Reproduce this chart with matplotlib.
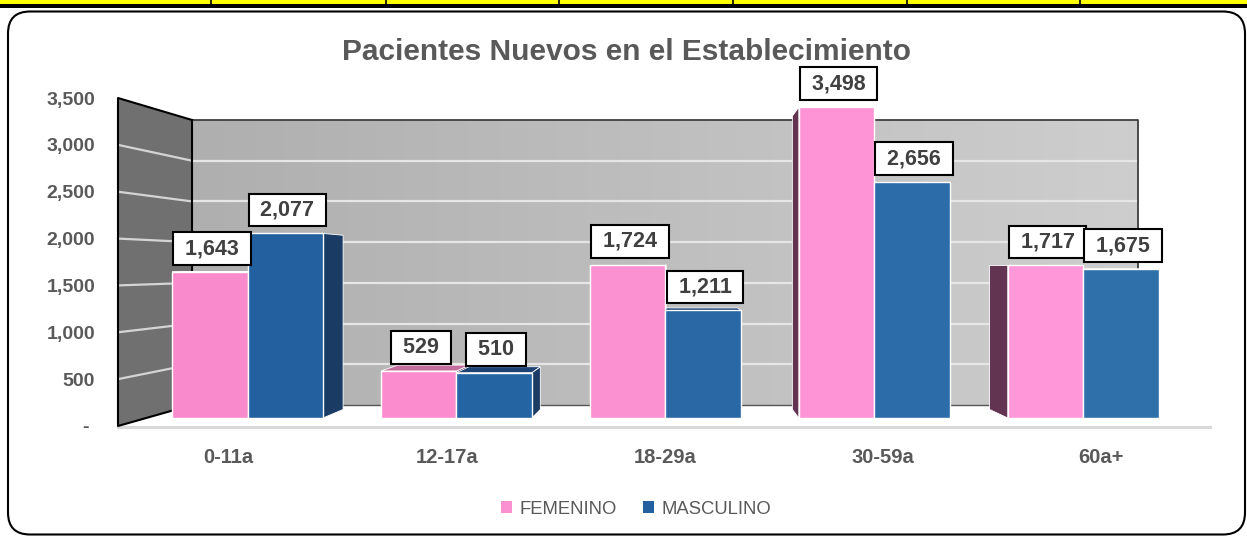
import matplotlib
matplotlib.use("Agg")
import matplotlib.pyplot as plt
import numpy as np
from matplotlib.patches import Polygon, Rectangle, FancyBboxPatch, Patch
from matplotlib.colors import to_rgb, LinearSegmentedColormap
from matplotlib.ticker import FuncFormatter

plt.rcParams['font.family'] = ['Liberation Sans', 'DejaVu Sans']

# data
categories = ["0-11a", "12-17a", "18-29a", "30-59a", "60a+"]
femenino = [1643, 529, 1724, 3498, 1717]
masculino = [2077, 510, 1211, 2656, 1675]
y_ticks = [0, 500, 1000, 1500, 2000, 2500, 3000, 3500]

W, H = 1247, 537
fig = plt.figure(figsize=(W / 100, H / 100), dpi=100)
fig.patch.set_facecolor("white")

gray_txt = "#595959"

# background / decoration axes in pixel units (top-down)
bg = fig.add_axes([0, 0, 1, 1], zorder=0)
bg.set_xlim(0, W)
bg.set_ylim(H, 0)
bg.axis("off")

# spreadsheet strip on top
bg.add_patch(Rectangle((0, 0), W, 4.5, facecolor="#ffff00", edgecolor="none"))
bg.add_patch(Rectangle((0, 4.2), W, 3.3, facecolor="black", edgecolor="none"))
for xc in [211, 386, 559, 733, 907, 1080]:
    bg.plot([xc, xc], [0, 4.5], color="black", lw=1.2)

# chart border
bg.add_patch(FancyBboxPatch((8, 11.5), 1237, 523, boxstyle="round,pad=0,rounding_size=22",
                            facecolor="white", edgecolor="black", lw=1.5, zorder=0.5))

# 3D walls
ymax = 3500.0
def front_y(v):
    return 426 - v * 328 / ymax

def back_y(v):
    return 405 - v * 285 / ymax

# back wall gradient
grad = np.linspace(0, 1, 256).reshape(1, -1)
cmap = LinearSegmentedColormap.from_list("wall", ["#afafaf", "#cecece"])
bg.imshow(grad, cmap=cmap, extent=(192, 1138, 405, 120), aspect="auto", zorder=1)
bg.set_xlim(0, W)
bg.set_ylim(H, 0)
for v in y_ticks[1:-1]:
    bg.plot([192, 1138], [back_y(v), back_y(v)], color="#e6e6e6", lw=1.6, zorder=1.2)
bg.plot([192, 1138, 1138], [120, 120, 405], color="#3f3f3f", lw=1.3, zorder=1.3)
bg.plot([192, 1138], [405, 405], color="#555555", lw=1.0, zorder=1.3)

# side wall
side = Polygon([(118, front_y(ymax)), (192, back_y(ymax)), (192, back_y(0)), (118, front_y(0))],
               closed=True, facecolor="#707070", edgecolor="none", zorder=1.4)
bg.add_patch(side)
for v in y_ticks[1:-1]:
    bg.plot([118, 192], [front_y(v), back_y(v)], color="#d4d4d4", lw=1.6, zorder=1.5)
bg.plot([192, 118, 118, 192, 192], [back_y(ymax), front_y(ymax), front_y(0), back_y(0), back_y(ymax)],
        color="black", lw=1.5, zorder=1.6)

# floor front edge
bg.plot([118, 1210], [427, 427], color="#d9d9d9", lw=2.2, zorder=1.2)

# front-plane axes: y tick labels and category labels
fax = fig.add_axes([118 / W, 1 - 426 / H, (1210 - 118) / W, (426 - 98) / H], zorder=1)
fax.patch.set_visible(False)
fax.set_xlim(-0.507, 4.5)
fax.set_ylim(0, ymax)
for s in fax.spines.values():
    s.set_visible(False)
fax.set_yticks(y_ticks)
fax.yaxis.set_major_formatter(FuncFormatter(lambda v, p: "- " if v == 0 else f"{int(v):,}"))
fax.set_xticks(range(len(categories)))
fax.set_xticklabels(categories)
fax.tick_params(axis="y", length=0, pad=16.5, labelsize=14, labelcolor=gray_txt)
fax.tick_params(axis="x", length=0, pad=16, labelsize=14.5, labelcolor=gray_txt)
for lab in fax.get_yticklabels() + fax.get_xticklabels():
    lab.set_fontweight("bold")

# bar axes
bax = fig.add_axes([118 / W, 1 - 418 / H, (1210 - 118) / W, (418 - 107) / H], zorder=2)
bax.patch.set_visible(False)
bax.axis("off")
bax.set_xlim(-0.62, 4.607)
bax.set_ylim(0, ymax)

x = np.arange(len(categories))
w = 0.361

def shades(c0, c1, n):
    a, b = np.array(to_rgb(c0)), np.array(to_rgb(c1))
    return [tuple(a + (b - a) * t) for t in np.linspace(0, 1, n)]

pink_cols = shades("#f98acb", "#ff97d8", len(categories))
blue_cols = shades("#22609f", "#2f70ab", len(categories))

bars_f = bax.bar(x - w / 2, femenino, w, color=pink_cols, edgecolor="white", lw=1.0, zorder=3)
bars_m = bax.bar(x + w / 2, masculino, w, color=blue_cols, edgecolor="white", lw=1.0, zorder=3)

# perspective depth faces
vp = np.array([683.0, H - 266.0])
k = 0.944
inv = bax.transData.inverted()

def add_depth(bar, side_col, top_col):
    x0, x1 = bar.get_x(), bar.get_x() + bar.get_width()
    h = bar.get_height()
    pts = bax.transData.transform([(x0, 0), (x1, 0), (x1, h), (x0, h)])
    back = vp + k * (pts - vp)
    f = inv.transform(pts)
    b = inv.transform(back)
    if pts[1, 0] < vp[0]:
        bax.add_patch(Polygon([f[1], f[2], b[2], b[1]], closed=True, facecolor=side_col,
                              edgecolor="white", lw=0.6, zorder=2, clip_on=False))
    if pts[0, 0] > vp[0]:
        bax.add_patch(Polygon([f[0], f[3], b[3], b[0]], closed=True, facecolor=side_col,
                              edgecolor="white", lw=0.6, zorder=2, clip_on=False))
    if pts[2, 1] < vp[1]:
        bax.add_patch(Polygon([f[3], f[2], b[2], b[3]], closed=True, facecolor=top_col,
                              edgecolor="white", lw=0.6, zorder=2.5, clip_on=False))

for bar in bars_f:
    add_depth(bar, "#633452", "#c46c9e")
for bar in bars_m:
    add_depth(bar, "#1a3b64", "#1c4373")

# data labels
for bars, vals in [(bars_f, femenino), (bars_m, masculino)]:
    for bar, v in zip(bars, vals):
        bax.annotate(f" {v:,} ", (bar.get_x() + bar.get_width() / 2, v), xytext=(1.5, 9.3),
                     textcoords="offset points", ha="center", va="bottom",
                     fontsize=15.5, fontweight="bold", color="#404040", zorder=5,
                     bbox=dict(boxstyle="square,pad=0.27", facecolor="white",
                               edgecolor="black", lw=1.5))

# title
fig.text(627 / W, 1 - 60 / H, "Pacientes Nuevos en el Establecimiento", ha="center",
         va="baseline", fontsize=21.5, fontweight="bold", color=gray_txt)

# legend
handles = [Patch(facecolor=pink_cols[2], edgecolor="none"),
           Patch(facecolor=blue_cols[0], edgecolor="none")]
fig.legend(handles, ["FEMENINO", "MASCULINO"], loc="center", bbox_to_anchor=(636 / W, 1 - 509 / H),
           ncol=2, frameon=False, fontsize=13.3, labelcolor=gray_txt, handlelength=0.6,
           handleheight=0.6, handletextpad=0.4, columnspacing=1.4)

fig.savefig("out.png", dpi=100)
